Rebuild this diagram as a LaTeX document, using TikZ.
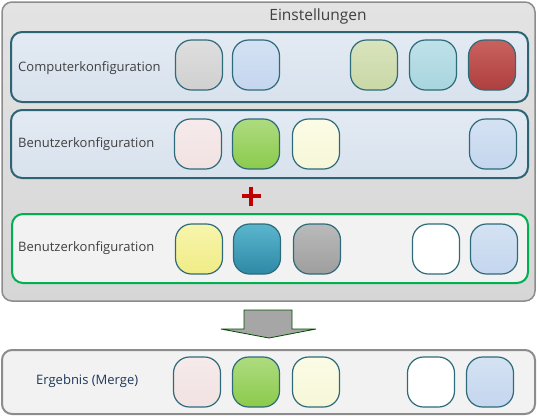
\documentclass[tikz,border=0pt]{standalone}
\usepackage{fontspec}
\setmainfont{Open Sans}
\definecolor{rowline}{HTML}{2D6474}
\definecolor{tileline}{HTML}{2E6B7A}
\definecolor{rowtop}{HTML}{E3EAF3}
\definecolor{rowbottom}{HTML}{D8E2ED}
\definecolor{boxgray}{HTML}{F2F2F2}
\definecolor{textgray}{HTML}{404040}
\definecolor{mergegreen}{HTML}{00B050}
\definecolor{plusred}{HTML}{C00000}
\begin{document}
\begin{tikzpicture}[x=1pt,y=-1pt,
  panel/.style={draw=rowline,line width=2pt,rounded corners=11pt,top color=rowtop,bottom color=rowbottom,minimum width=517pt,minimum height=70pt},
  tile/.style={draw=tileline,line width=1.2pt,rounded corners=16pt,minimum width=47pt,minimum height=50pt},
  lbl/.style={anchor=west,inner sep=0pt,font=\fontsize{13}{15}\selectfont,text=textgray}]
\useasboundingbox (0,0) rectangle (537,416);
%Einstellungen
\node[draw=gray!90,line width=1.5pt,rounded corners=10pt,top color=gray!22,bottom color=gray!32,minimum width=533pt,minimum height=299pt] (settings) at (268.5,151.5) {};
\node[font=\fontsize{15.5}{17}\selectfont,text=textgray] (title) at (318,16) {Einstellungen};
%Zeilen
\node[panel] (comp) at (269.5,67) {};
\node[lbl] at (18,68) {Computerkonfiguration};
\node[panel,minimum height=68pt] (user) at (269.5,144) {};
\node[lbl] at (18,144) {Benutzerkonfiguration};
\node[panel,draw=mergegreen,top color=boxgray,bottom color=boxgray,minimum width=516pt,minimum height=69pt] (loop) at (270,248.5) {};
\node[lbl] at (18,248) {Benutzerkonfiguration};
%Kacheln
\foreach \px/\ct/\cb [count=\i] in {199/DEDEDE/D0D0D0,256/D4E2F3/C4D6EE,374/D9E3BD/C9D8A6,433/BFE1E9/A8D5DF,492/C9625E/AE3F3F}{
  \definecolor{tc}{HTML}{\ct}\definecolor{bc}{HTML}{\cb}
  \node[tile,top color=tc,bottom color=bc] (comp-\i) at (\px,65) {};}
\foreach \px/\ct/\cb [count=\i] in {198/F6EAEA/F2E2E2,256/AEDB80/8BCB4B,316/FCFCE6/F6F6D8,493/D4E2F3/C4D6EE}{
  \definecolor{tc}{HTML}{\ct}\definecolor{bc}{HTML}{\cb}
  \node[tile,top color=tc,bottom color=bc] (user-\i) at (\px,144) {};}
\foreach \px/\ct/\cb [count=\i] in {199/F7F5AC/F0EC86,257/5AB5CD/2E89A7,317/BABABA/9E9E9E,436/FFFFFF/FFFFFF,494/D4E2F3/C4D6EE}{
  \definecolor{tc}{HTML}{\ct}\definecolor{bc}{HTML}{\cb}
  \node[tile,top color=tc,bottom color=bc] (loop-\i) at (\px,249) {};}
%Plus
\draw[plusred,line width=4pt] (241.5,196)--(260.5,196) (251,186.5)--(251,205.5);
%Pfeil
\draw[fill=gray!70,draw=green!30!black,line width=.8pt] (244,310)--(292,310)--(292,329)--(316,329)--(269,338)--(221,329)--(244,329)--cycle;
%Ergebnis
\node[draw=gray!90,line width=2pt,rounded corners=10pt,fill=boxgray,minimum width=533pt,minimum height=64pt] (result) at (268.5,382) {};
\node[lbl,text={rgb,255:red,31;green,56;blue,90}] at (36,381) {Ergebnis (Merge)};
\foreach \px/\ct/\cb [count=\i] in {197/F6EAEA/F2E2E2,256/AEDB80/8BCB4B,316/FCFCE6/F6F6D8,431/FFFFFF/FFFFFF,490/D4E2F3/C4D6EE}{
  \definecolor{tc}{HTML}{\ct}\definecolor{bc}{HTML}{\cb}
  \node[tile,top color=tc,bottom color=bc] (result-\i) at (\px,382) {};}
\end{tikzpicture}
\end{document}
